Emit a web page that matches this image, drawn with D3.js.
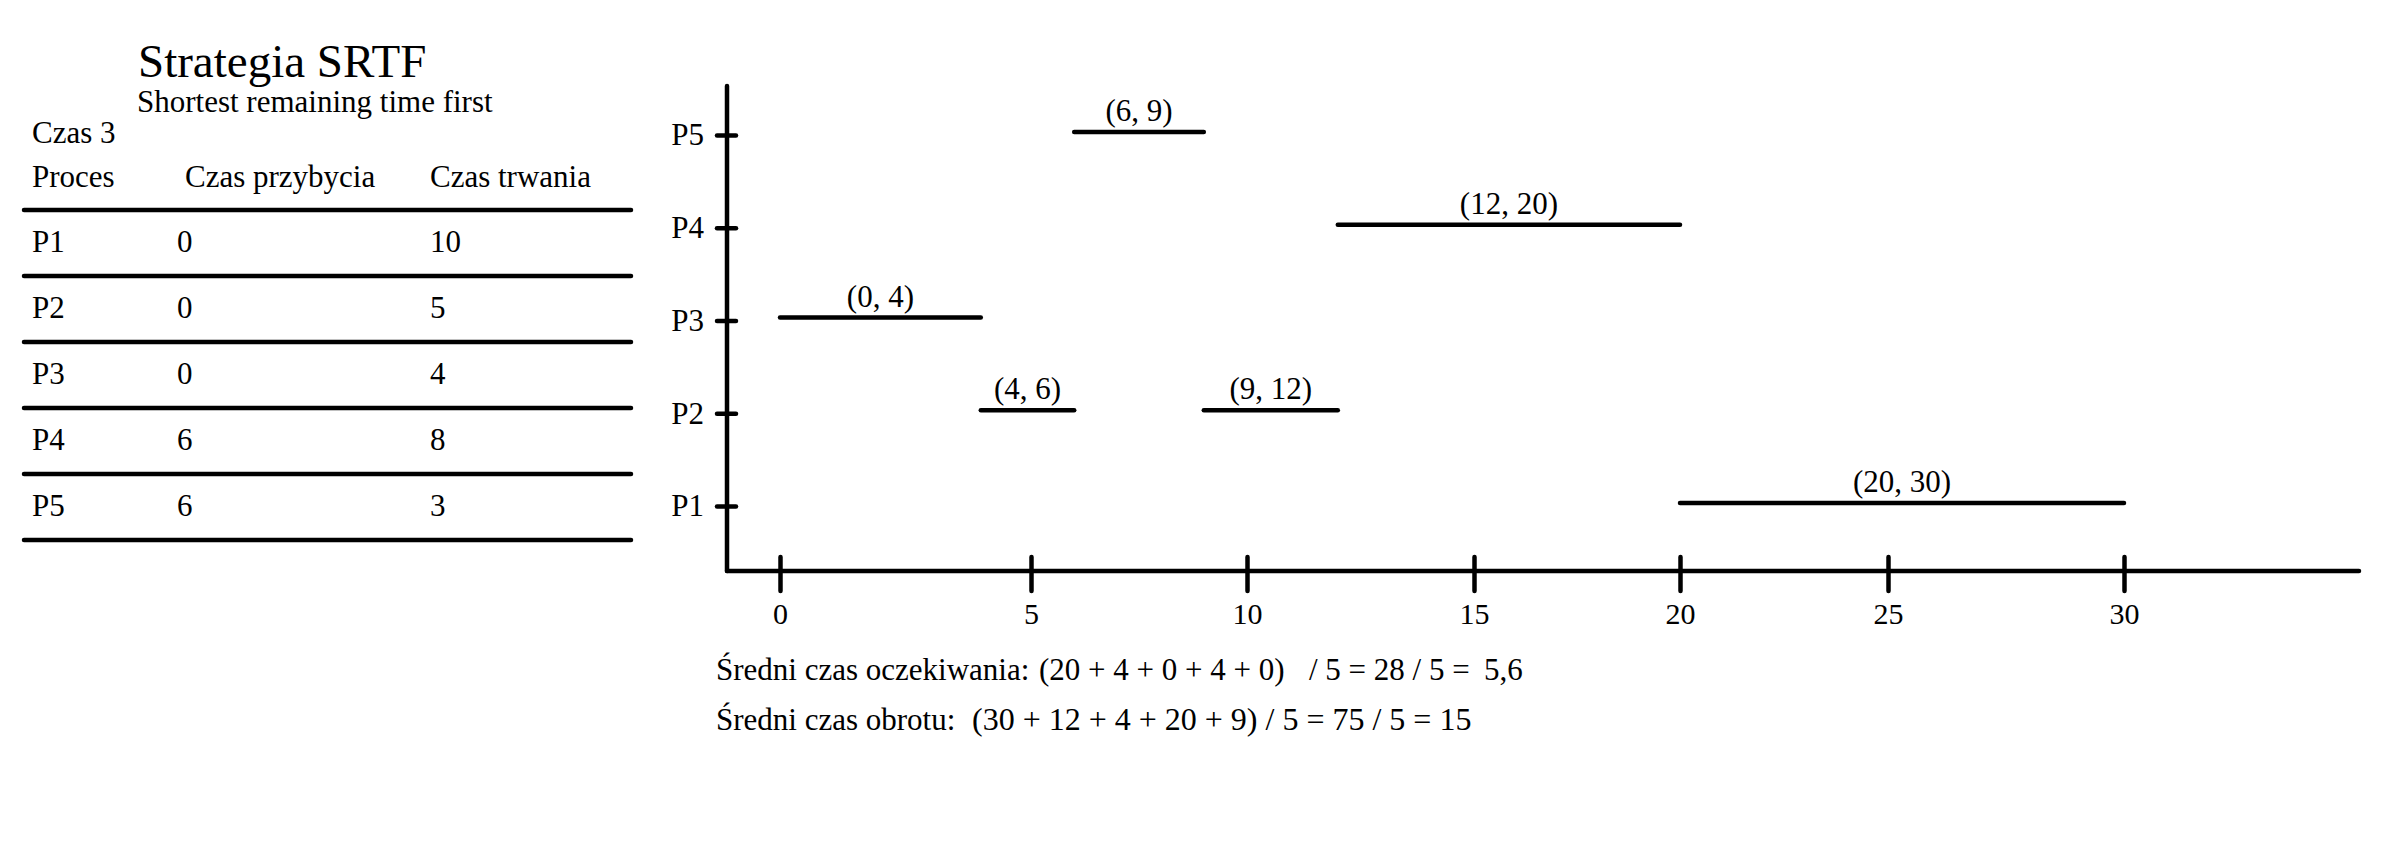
<!DOCTYPE html>
<html>
<head>
<meta charset="utf-8">
<script src="https://cdn.jsdelivr.net/npm/d3@7"></script>
<style>
  html, body { margin: 0; padding: 0; background: #fff; }
  svg { display: block; font-family: "Liberation Serif", "Times New Roman", serif; }
</style>
</head>
<body>
<script>
// ---------- data ----------
const titleText = "Strategia SRTF";
const subtitleText = "Shortest remaining time first";
const timeLabel = "Czas 3";
const tableHeaders = ["Proces", "Czas przybycia", "Czas trwania"];
const processes = ["P1", "P2", "P3", "P4", "P5"];
const arrivalTimes = [0, 0, 0, 6, 6];
const burstTimes = [10, 5, 4, 8, 3];

const segProcess = ["P3", "P2", "P5", "P2", "P4", "P1"];
const segStart   = [0, 4, 6, 9, 12, 20];
const segEnd     = [4, 6, 9, 12, 20, 30];

const xTicks = [0, 5, 10, 15, 20, 25, 30];

const waitLine = ["Średni czas oczekiwania:", "(20 + 4 + 0 + 4 + 0)", "/ 5 = 28 / 5 =", "5,6"];
const turnLine = ["Średni czas obrotu:", "(30 + 12 + 4 + 20 + 9) / 5 = 75 / 5 = 15"];

// ---------- layout ----------
const W = 2406, H = 860;
const FS = 31;
const svg = d3.select("body").append("svg").attr("width", W).attr("height", H);
svg.append("rect").attr("width", W).attr("height", H).attr("fill", "#fff");

// Title block
svg.append("text").attr("x", 138).attr("y", 77).attr("font-size", 47).text(titleText);
svg.append("text").attr("x", 137).attr("y", 112).attr("font-size", FS).text(subtitleText);
svg.append("text").attr("x", 32).attr("y", 143).attr("font-size", FS).text(timeLabel);

// Table
const colX = [32, 185, 430];
const valX = [32, 177, 430];
const headerY = 187;
tableHeaders.forEach((h, i) => {
  svg.append("text").attr("x", colX[i]).attr("y", headerY).attr("font-size", FS).text(h);
});
const rowScale = d3.scaleLinear().domain([0, processes.length]).range([210, 540]);
const tbl = svg.append("g");
d3.range(processes.length + 1).forEach(i => {
  tbl.append("line")
    .attr("x1", 24).attr("x2", 631)
    .attr("y1", rowScale(i)).attr("y2", rowScale(i))
    .attr("stroke", "#000").attr("stroke-width", 4.5).attr("stroke-linecap", "round");
});
const rows = processes.map((p, i) => [p, arrivalTimes[i], burstTimes[i]]);
rows.forEach((r, i) => {
  r.forEach((v, j) => {
    tbl.append("text")
      .attr("x", valX[j]).attr("y", rowScale(i) + 42)
      .attr("font-size", FS).text(v);
  });
});

// Chart scales
const x = d3.scaleLinear().domain(xTicks).range([780, 1031, 1247, 1474, 1680, 1888, 2124]);
const y = d3.scalePoint().domain(processes).range([506, 135]);
const axisX0 = 727, axisY0 = 571;

const chart = svg.append("g");
// axis lines
chart.append("line").attr("x1", axisX0).attr("x2", axisX0).attr("y1", 86).attr("y2", axisY0)
  .attr("stroke", "#000").attr("stroke-width", 4.5).attr("stroke-linecap", "round");
chart.append("line").attr("x1", axisX0).attr("x2", 2359).attr("y1", axisY0).attr("y2", axisY0)
  .attr("stroke", "#000").attr("stroke-width", 4.5).attr("stroke-linecap", "round");

// x axis via d3.axisBottom
const gx = chart.append("g").attr("transform", `translate(0,${axisY0})`)
  .call(d3.axisBottom(x).tickValues(xTicks).tickFormat(d3.format("d")).tickSize(20).tickPadding(24));
gx.select(".domain").remove();
gx.selectAll(".tick line").attr("y1", -14).attr("y2", 20)
  .attr("stroke", "#000").attr("stroke-width", 4.5).attr("stroke-linecap", "round");
gx.selectAll(".tick text").attr("font-size", 30).attr("font-family", "Liberation Serif")
  .attr("fill", "#000").attr("dy", null).attr("y", 53);

// y axis via d3.axisLeft
const gy = chart.append("g").attr("transform", `translate(${axisX0},0)`)
  .call(d3.axisLeft(y).tickSize(10).tickPadding(13));
gy.select(".domain").remove();
gy.selectAll(".tick line").attr("x1", -10).attr("x2", 9)
  .attr("stroke", "#000").attr("stroke-width", 4.5).attr("stroke-linecap", "round");
gy.selectAll(".tick text").attr("font-size", FS).attr("font-family", "Liberation Serif")
  .attr("fill", "#000").attr("dy", "0.32em");

// Segments
const segs = segProcess.map((p, i) => ({ p, s: segStart[i], e: segEnd[i] }));
chart.selectAll(".seg").data(segs).join("line")
  .attr("class", "seg")
  .attr("x1", d => x(d.s)).attr("x2", d => x(d.e))
  .attr("y1", d => y(d.p) - 3).attr("y2", d => y(d.p) - 3)
  .attr("stroke", "#000").attr("stroke-width", 4.5).attr("stroke-linecap", "round");
chart.selectAll(".segLabel").data(segs).join("text")
  .attr("class", "segLabel")
  .attr("x", d => (x(d.s) + x(d.e)) / 2)
  .attr("y", d => y(d.p) - 14)
  .attr("text-anchor", "middle")
  .attr("font-size", FS)
  .text(d => `(${d.s}, ${d.e})`);

// Bottom text
const waitX = [716, 1039, 1309, 1484];
waitLine.forEach((t, i) => {
  svg.append("text").attr("x", waitX[i]).attr("y", 680).attr("font-size", FS).text(t);
});
const turnX = [716, 972];
turnLine.forEach((t, i) => {
  svg.append("text").attr("x", turnX[i]).attr("y", 730).attr("font-size", i === 1 ? 32 : FS).text(t);
});
</script>
</body>
</html>
